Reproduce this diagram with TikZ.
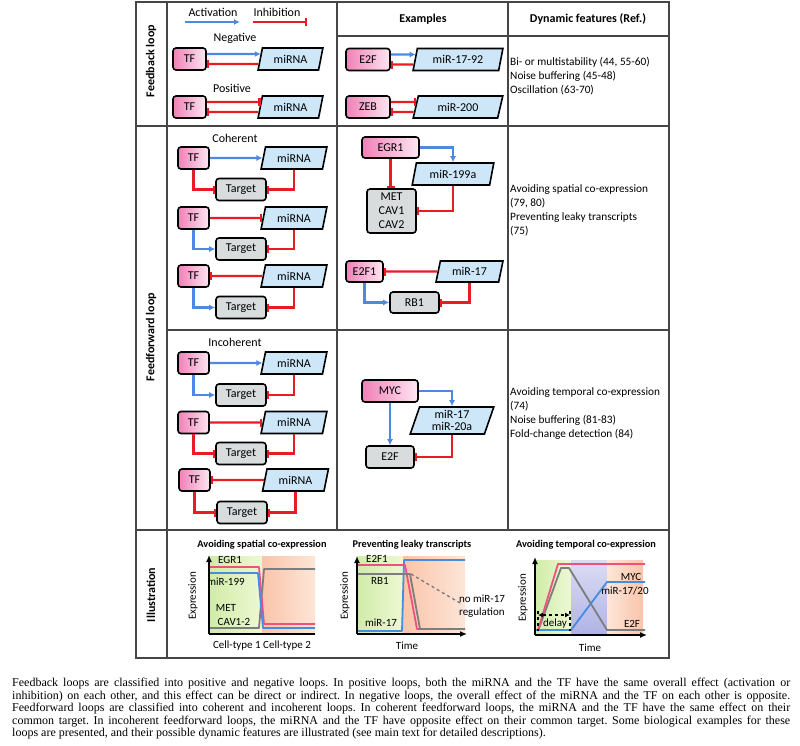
\documentclass[tikz,border=0pt]{standalone}
\usepackage{fontspec}
\setmainfont{Carlito}
\newfontfamily\capfont{Liberation Serif}
\usepackage{xcolor}
\usetikzlibrary{arrows.meta,shapes.geometric}

\definecolor{actblue}{RGB}{78,136,224}
\definecolor{inhred}{RGB}{232,28,36}
\definecolor{tfpinkA}{RGB}{240,128,184}
\definecolor{tfpinkB}{RGB}{253,230,241}
\definecolor{mirfill}{RGB}{205,230,248}
\definecolor{tgfill}{RGB}{216,220,220}
\definecolor{gridgray}{RGB}{70,70,70}
\definecolor{curvered}{RGB}{240,80,125}
\definecolor{curveblue}{RGB}{70,140,225}
\definecolor{curvegray}{RGB}{125,125,125}
\definecolor{bggreenA}{RGB}{208,236,168}
\definecolor{bggreenB}{RGB}{238,248,212}
\definecolor{bgorangeA}{RGB}{250,196,170}
\definecolor{bgorangeB}{RGB}{253,230,216}
\definecolor{bglilac}{RGB}{176,178,230}

\begin{document}
\frenchspacing
\begin{tikzpicture}[x=1pt,y=-1pt,
  every node/.style={font=\fontsize{12}{13}\selectfont},
  tfbox/.style={draw,line width=1.6pt,rounded corners=3pt,left color=tfpinkA,right color=tfpinkB,minimum width=33pt,minimum height=22pt,inner sep=1pt},
  tgbox/.style={draw,line width=1.6pt,rounded corners=3pt,fill=tgfill,minimum width=50pt,minimum height=22pt,inner sep=1pt},
  mirbox/.style={draw,line width=1.6pt,fill=mirfill,trapezium,trapezium left angle=75,trapezium right angle=105,trapezium stretches=true,minimum width=66pt,minimum height=22pt,inner sep=1pt},
  act/.style={actblue,line width=2.2pt,-{Latex[length=6pt,width=6pt]}},
  inh/.style={inhred,line width=2.3pt,-{Bar[width=8pt]}},
  rowlab/.style={rotate=90,font=\bfseries\fontsize{12}{13}\selectfont},
  head/.style={font=\bfseries\fontsize{12}{13}\selectfont},
  feat/.style={anchor=west,align=left,inner sep=0pt,font=\fontsize{11.3}{14}\selectfont},
  ptitle/.style={font=\bfseries\fontsize{10.3}{12}\selectfont},
  plab/.style={inner sep=0pt,font=\fontsize{11}{13}\selectfont},
  curve/.style={line width=1.8pt,line join=round},
  axis/.style={line width=2pt,-{Latex[length=7pt,width=6pt]}}]
  \useasboundingbox (0,0) rectangle (800,745);

  % table
  \draw[gridgray,line width=1.2pt] (136,2) rectangle (669,658);
  \draw[gridgray,line width=1.2pt] (167,2) -- (167,658);
  \draw[gridgray,line width=1.2pt] (337,2) -- (337,530);
  \draw[gridgray,line width=1.2pt] (508,2) -- (508,530);
  \draw[gridgray,line width=1.2pt] (337,36) -- (669,36);
  \draw[gridgray,line width=1.2pt] (136,126) -- (669,126);
  \draw[gridgray,line width=1.2pt] (167,330) -- (669,330);
  \draw[gridgray,line width=1.2pt] (136,530) -- (669,530);

  \node[rowlab] (lfb) at (151,61) {Feedback loop};
  \node[rowlab] (lff) at (151,337) {Feedforward loop};
  \node[rowlab] (lil) at (151,595) {Illustration};
  \node[head] (hex) at (423,19) {Examples};
  \node[head] (hdf) at (588,19) {Dynamic features (Ref.)};

  % legend
  \node (lact) at (213,12) {Activation};
  \node (linh) at (277,12) {Inhibition};
  \coordinate (la1) at (185,22);
  \coordinate (la2) at (240,22);
  \coordinate (li1) at (253,22);
  \coordinate (li2) at (307,22);
  \draw[act] (la1) -- (la2);
  \draw[inh] (li1) -- (li2);

  % feedback loops
  \node (tneg) at (235,38) {Negative};
  \node[tfbox] (tfA) at (189.5,59) {TF};
  \node[mirbox,minimum width=65pt] (mA) at (290.5,59) {miRNA};
  \draw[act] ([yshift=5pt]tfA.east) -- ([xshift=1.3pt,yshift=5pt]mA.west);
  \draw[inh] ([xshift=-1.3pt,yshift=-5pt]mA.west) -- ([yshift=-5pt]tfA.east);
  \node (tpos) at (232,88) {Positive};
  \node[tfbox] (tfB) at (189.5,107) {TF};
  \node[mirbox,minimum width=65pt] (mB) at (290.5,107) {miRNA};
  \draw[inh] ([yshift=5pt]tfB.east) -- ([xshift=1.3pt,yshift=5pt]mB.west);
  \draw[inh] ([xshift=-1.3pt,yshift=-5pt]mB.west) -- ([yshift=-5pt]tfB.east);

  \node[tfbox,minimum width=44pt] (e2f) at (368,59.5) {E2F};
  \node[mirbox,minimum width=90pt] (m1792) at (458,59.5) {miR-17-92};
  \draw[act] ([yshift=5pt]e2f.east) -- ([xshift=1.3pt,yshift=5pt]m1792.west);
  \draw[inh] ([xshift=-1.3pt,yshift=-5pt]m1792.west) -- ([yshift=-5pt]e2f.east);
  \node[tfbox,minimum width=44pt] (zeb) at (368,107) {ZEB};
  \node[mirbox,minimum width=90pt] (m200) at (458,107) {miR-200};
  \draw[inh] ([yshift=5pt]zeb.east) -- ([xshift=1.3pt,yshift=5pt]m200.west);
  \draw[inh] ([xshift=-1.3pt,yshift=-5pt]m200.west) -- ([yshift=-5pt]zeb.east);

  \node[feat] (ffb) at (510,76.5) {Bi- or multistability (44, 55-60)\\Noise buffering (45-48)\\Oscillation (63-70)};

  % coherent feedforward loops
  \node (tcoh) at (235,138) {Coherent};
  \node[tfbox,minimum width=31pt] (tfC1) at (193.5,158) {TF};
  \node[mirbox] (mC1) at (294,158) {miRNA};
  \node[tgbox] (tgC1) at (241,189.5) {Target};
  \draw[act] (tfC1) -- (mC1);
  \draw[inh] (tfC1) |- (tgC1);
  \draw[inh] (mC1) |- (tgC1);

  \node[tfbox,minimum width=31pt] (tfC2) at (193.5,218) {TF};
  \node[mirbox] (mC2) at (294,218) {miRNA};
  \node[tgbox] (tgC2) at (241,249) {Target};
  \draw[inh] (tfC2) -- (mC2);
  \draw[act] (tfC2) |- (tgC2);
  \draw[inh] (mC2) |- (tgC2);

  \node[tfbox,minimum width=31pt] (tfC3) at (193.5,276) {TF};
  \node[mirbox] (mC3) at (294,276) {miRNA};
  \node[tgbox] (tgC3) at (241,307.5) {Target};
  \draw[inh] (mC3) -- (tfC3);
  \draw[act] (tfC3) |- (tgC3);
  \draw[inh] (mC3) |- (tgC3);

  \node[tfbox,minimum width=57pt,minimum height=21pt] (egr1) at (390.5,147.5) {EGR1};
  \node[mirbox,minimum width=82pt] (m199) at (453,174) {miR-199a};
  \node[tgbox,minimum width=49pt,minimum height=44pt,align=center,font=\fontsize{12}{14}\selectfont] (met) at (391.5,211) {MET\\CAV1\\CAV2};
  \draw[act] (egr1) -| (m199);
  \draw[inh] (egr1.south) -- (egr1.south |- met.north);
  \draw[inh] (m199) |- (met);

  \node[tfbox,minimum width=37pt,minimum height=21pt] (e2f1) at (364.5,271.5) {E2F1};
  \node[mirbox,minimum width=67pt,minimum height=21pt] (m17) at (469.5,271.5) {miR-17};
  \node[tgbox,minimum width=49pt,minimum height=21pt] (rb1) at (414.5,302.5) {RB1};
  \draw[inh] (m17) -- (e2f1);
  \draw[act] (e2f1) |- (rb1);
  \draw[inh] (m17) |- (rb1);

  \node[feat] (ffc) at (510,210) {Avoiding spatial co-expression\\(79, 80)\\Preventing leaky transcripts\\(75)};

  % incoherent feedforward loops
  \node (tinc) at (235,342) {Incoherent};
  \node[tfbox,minimum width=31pt] (tfI1) at (193.5,363) {TF};
  \node[mirbox] (mI1) at (294,363) {miRNA};
  \node[tgbox] (tgI1) at (241,395) {Target};
  \draw[act] (tfI1) -- (mI1);
  \draw[act] (tfI1) |- (tgI1);
  \draw[inh] (mI1) |- (tgI1);

  \node[tfbox,minimum width=31pt] (tfI2) at (193.5,422.5) {TF};
  \node[mirbox] (mI2) at (294,422.5) {miRNA};
  \node[tgbox] (tgI2) at (241,453.5) {Target};
  \draw[inh] (tfI2) -- (mI2);
  \draw[inh] (tfI2) |- (tgI2);
  \draw[inh] (mI2) |- (tgI2);

  \node[tfbox,minimum width=31pt] (tfI3) at (194.5,480) {TF};
  \node[mirbox] (mI3) at (295.5,480) {miRNA};
  \node[tgbox] (tgI3) at (242,512.5) {Target};
  \draw[inh] (mI3) -- (tfI3);
  \draw[inh] (tfI3) |- (tgI3);
  \draw[inh] (mI3) |- (tgI3);

  \node[tfbox,minimum width=56pt] (myc) at (390,391) {MYC};
  \node[mirbox,minimum width=84pt,minimum height=27pt,align=center,font=\fontsize{12}{12.5}\selectfont] (m1720) at (452,420.5) {miR-17\\miR-20a};
  \node[tgbox,minimum width=48pt] (e2fI) at (390,457) {E2F};
  \draw[act] (myc) -| (m1720);
  \draw[act] (myc) -- (e2fI);
  \draw[inh] (m1720) |- (e2fI);

  \node[feat] (ffi) at (510,414) {Avoiding temporal co-expression\\(74)\\Noise buffering (81-83)\\Fold-change detection (84)};

  % illustrations
  \node[ptitle] (ti1) at (262,545) {Avoiding spatial co-expression};
  \node[ptitle] (ti2) at (412,545) {Preventing leaky transcripts};
  \node[ptitle] (ti3) at (586,545) {Avoiding temporal co-expression};

  \fill[left color=bggreenA,right color=bggreenB] (209,556) rectangle (262,634);
  \fill[left color=bgorangeA,right color=bgorangeB] (262,556) rectangle (315,634);
  \draw[curve,curvegray] (209,628) -- (259,628) -- (264,569) -- (315,569);
  \draw[curve,curvered] (209,567) -- (259,567) -- (264,624) -- (315,624);
  \draw[curve,curveblue] (209,573) -- (258,573) -- (263,628) -- (315,628);
  \draw[line width=2pt] (315,634) -- (209,634);
  \draw[axis] (209,634) -- (209,555);
  \node[plab] (p1egr) at (230,560) {EGR1};
  \node[plab] (p1mir) at (226,582) {miR-199};
  \node[plab] (p1met) at (226,608) {MET};
  \node[plab] (p1cav) at (234,622) {CAV1-2};
  \node[plab] (p1x) at (262,646) {Cell-type 1 Cell-type 2};
  \node[plab,rotate=90] (p1y) at (193,596) {Expression};

  \fill[left color=bggreenA,right color=bggreenB] (357,556) rectangle (403,634);
  \fill[left color=bgorangeA,right color=bgorangeB] (403,556) rectangle (465,634);
  \draw[curve,curveblue] (358,631) -- (402,631) -- (404,560) -- (465,560);
  \draw[curve,curvered] (358,565) -- (405,565) -- (417,629) -- (422,629);
  \draw[curve,curvegray] (358,574) -- (410,574) -- (420,629) -- (465,629);
  \draw[curve,curvegray,dashed,line width=1.4pt] (411,574) -- (460,603);
  \draw[axis] (357,634) -- (357,556);
  \draw[axis] (357,634) -- (467,634);
  \node[plab] (p2e2f) at (377,559) {E2F1};
  \node[plab] (p2rb) at (380,581) {RB1};
  \node[plab] (p2mir) at (381,623) {miR-17};
  \node[plab,align=left] (p2no) at (482,606) {no miR-17\\regulation};
  \node[plab] (p2x) at (407,646) {Time};
  \node[plab,rotate=90] (p2y) at (345,596) {Expression};

  \fill[left color=bggreenA,right color=bggreenB] (535,560) rectangle (571,635);
  \shade[top color=bglilac!45,bottom color=bglilac] (571,560) rectangle (607,635);
  \fill[left color=bgorangeB,right color=bgorangeA] (607,560) rectangle (643,635);
  \draw[curve,curveblue] (536,630) -- (571,630) -- (607,582) -- (645,582);
  \draw[curve,curvegray] (538,631) -- (561,568) -- (569,568) -- (607,630) -- (645,630);
  \draw[curve,curvered] (538,630) -- (558,564) -- (645,564);
  \coordinate (dl1) at (538,615);
  \coordinate (dl2) at (570,615);
  \draw[dashed,line width=1.2pt] (538,611) -- (538,631);
  \draw[dashed,line width=1.2pt] (570,611) -- (570,631);
  \draw[dashed,line width=1.2pt,{Latex[length=5pt,width=5pt]}-{Latex[length=5pt,width=5pt]}] (dl1) -- (dl2);
  \draw[axis] (535,635) -- (535,557);
  \draw[axis] (535,635) -- (647,635);
  \node[plab] (p3myc) at (631,577) {MYC};
  \node[plab] (p3mir) at (625,591) {miR-17/20};
  \node[plab] (p3e2f) at (632,624) {E2F};
  \node[plab] (p3dl) at (555,624) {delay};
  \node[plab] (p3x) at (590,648) {Time};
  \node[plab,rotate=90] (p3y) at (523,598) {Expression};

  % caption
  \node[anchor=north west,inner sep=0pt,text width=778pt,align=justify,font=\capfont\fontsize{12}{12.5}\selectfont] (caption) at (12,678)
    {Feedback loops are classified into positive and negative loops. In positive loops, both the miRNA and the TF have the same overall effect (activation or\linebreak
     inhibition) on each other, and this effect can be direct or indirect. In negative loops, the overall effect of the miRNA and the TF on each other is opposite.\linebreak
     Feedforward loops are classified into coherent and incoherent loops. In coherent feedforward loops, the miRNA and the TF have the same effect on their\linebreak
     common target. In incoherent feedforward loops, the miRNA and the TF have opposite effect on their common target. Some biological examples for these\linebreak
     loops are presented, and their possible dynamic features are illustrated (see main text for detailed descriptions).};
\end{tikzpicture}
\end{document}
